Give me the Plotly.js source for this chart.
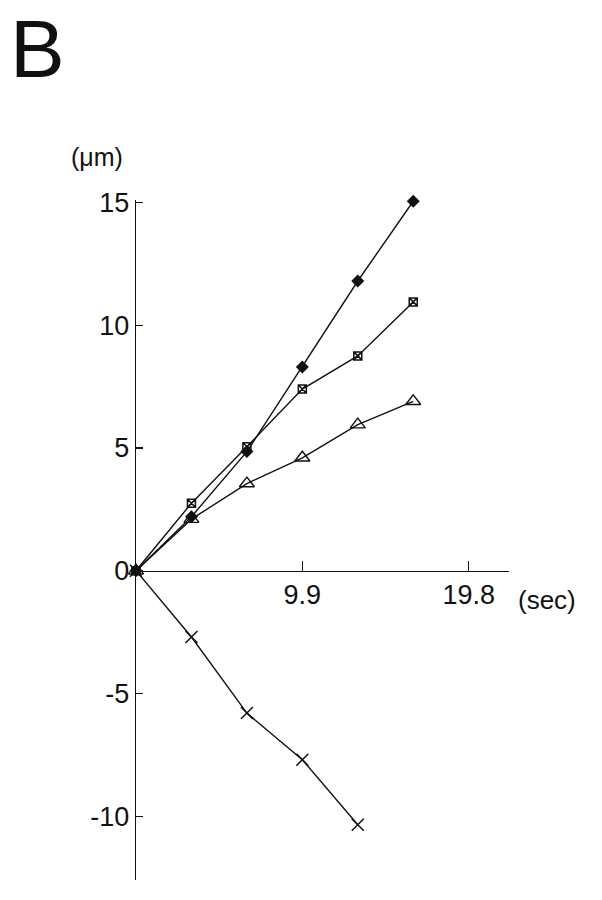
<!DOCTYPE html>
<html>
<head>
<meta charset="utf-8">
<script src="https://cdn.plot.ly/plotly-3.0.1.min.js"></script>
<style>html,body{margin:0;padding:0;background:#fff;}#chart{width:602px;height:900px;}</style>
</head>
<body>
<div id="chart"></div>
<script>
var timeSec = [0, 3.3, 6.6, 9.9, 13.2, 16.5];
var diamondSeries = [0, 2.2, 4.85, 8.3, 11.8, 15.05];
var squareSeries = [0, 2.75, 5.05, 7.4, 8.75, 10.95];
var triangleSeries = [0, 2.1, 3.55, 4.6, 5.95, 6.9];
var crossTime = [0, 3.3, 6.6, 9.9, 13.2];
var crossSeries = [0, -2.7, -5.8, -7.7, -10.35];
var xTickVals = [9.9, 19.8];
var xTickText = ["9.9", "19.8"];
var yTickVals = [-10, -5, 0, 5, 10, 15];
var yTickText = ["-10", "-5", "0", "5", "10", "15"];

var font = "Liberation Sans, Arial, Helvetica, sans-serif";
var line = {color: "#111", width: 1.4};

var traces = [
  {x: timeSec, y: diamondSeries, mode: "lines+markers", line: line, cliponaxis: false,
   marker: {symbol: "diamond", size: 10, color: "#111"}},
  {x: timeSec, y: squareSeries, mode: "lines+markers", line: line, cliponaxis: false,
   marker: {symbol: "square-x-open", size: 8, color: "#111", line: {width: 1.5, color: "#111"}}},
  {x: timeSec, y: triangleSeries, mode: "lines+markers", line: line, cliponaxis: false,
   marker: {symbol: "triangle-up-open", size: 13, color: "#111", line: {width: 1.4, color: "#111"}}},
  {x: crossTime, y: crossSeries, mode: "lines+markers", line: line, cliponaxis: false,
   marker: {symbol: "x-thin-open", size: 12, color: "#111", line: {width: 1.5, color: "#111"}}},
  {x: [0], y: [0], mode: "markers", cliponaxis: false, marker: {symbol: "square", size: 9, color: "#111"}}
];

var layout = {
  width: 602, height: 900,
  margin: {l: 136, r: 93, t: 200, b: 20},
  paper_bgcolor: "#fff", plot_bgcolor: "#fff",
  showlegend: false,
  font: {family: font, color: "#111"},
  xaxis: {
    range: [0, 22.2], showgrid: false, zeroline: false,
    showline: true, linecolor: "#111", linewidth: 1.3,
    anchor: "free", position: 12.6 / 27.7,
    tickmode: "array", tickvals: xTickVals, ticktext: xTickText,
    ticks: "inside", ticklen: 10, tickwidth: 1.2, tickcolor: "#111",
    tickfont: {size: 27, family: font, color: "#111"}
  },
  yaxis: {
    range: [-12.6, 15.1], showgrid: false, zeroline: false,
    showline: true, linecolor: "#111", linewidth: 1.3,
    tickmode: "array", tickvals: yTickVals, ticktext: yTickText,
    ticks: "inside", ticklen: 7, tickwidth: 1.2, tickcolor: "#111",
    tickfont: {size: 27, family: font, color: "#111"}
  },
  annotations: [
    {text: "B", xref: "paper", yref: "paper", x: (8 - 136) / 373, y: (880 - 1) / 680,
     xanchor: "left", yanchor: "top", showarrow: false,
     font: {size: 82, family: font, color: "#111"}},
    {text: "(μm)", xref: "paper", yref: "paper", x: (97 - 136) / 373, y: (880 - 157) / 680,
     xanchor: "center", yanchor: "middle", showarrow: false,
     font: {size: 25, family: font, color: "#111"}},
    {text: "(sec)", xref: "paper", yref: "paper", x: (516 - 136) / 373, y: (880 - 600) / 680,
     xanchor: "left", yanchor: "middle", showarrow: false,
     font: {size: 26, family: font, color: "#111"}}
  ]
};

Plotly.newPlot("chart", traces, layout, {staticPlot: true, displayModeBar: false});
</script>
</body>
</html>
